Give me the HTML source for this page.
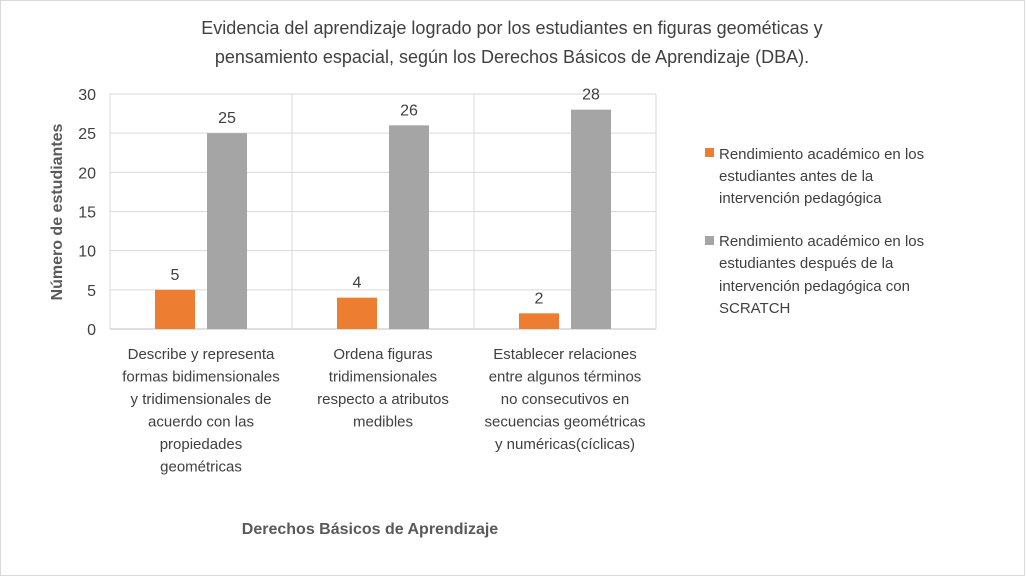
<!DOCTYPE html>
<html><head><meta charset="utf-8"><style>
body{margin:0;background:#fff;}
svg text{font-family:"Liberation Sans",sans-serif;}
</style></head><body>
<svg width="1026" height="577" xmlns="http://www.w3.org/2000/svg">
<rect x="0.5" y="0.5" width="1024" height="575" fill="#fff" stroke="#d9d9d9"/>
<text x="512" y="34" text-anchor="middle" font-size="18" fill="#404040">Evidencia del aprendizaje logrado por los estudiantes  en figuras geométicas y</text>
<text x="512" y="63" text-anchor="middle" font-size="18" fill="#404040">pensamiento espacial, según los Derechos Básicos de Aprendizaje (DBA).</text>
<g id="grid"></g>
<g id="bars"></g>
<g id="xlabels"></g>
<text transform="translate(62,212) rotate(-90)" text-anchor="middle" font-size="16" font-weight="bold" fill="#595959">Número de estudiantes</text>
<text x="370" y="534" text-anchor="middle" font-size="16" font-weight="bold" fill="#595959">Derechos Básicos de Aprendizaje</text>
<g>
<rect x="705" y="148" width="9" height="9" fill="#ed7d31"/>
<text font-size="15" fill="#404040"><tspan x="719" y="159">Rendimiento académico en los</tspan><tspan x="719" y="181">estudiantes  antes de la</tspan><tspan x="719" y="203">intervención pedagógica</tspan></text>
<rect x="705" y="236" width="9" height="9" fill="#a5a5a5"/>
<text font-size="15" fill="#404040"><tspan x="719" y="246">Rendimiento académico en los</tspan><tspan x="719" y="268">estudiantes  después de la</tspan><tspan x="719" y="291">intervención pedagógica con</tspan><tspan x="719" y="313">SCRATCH</tspan></text>
</g>
</svg>
<script>
const categories=[["Describe y representa","formas bidimensionales","y tridimensionales de","acuerdo con las","propiedades","geométricas"],["Ordena figuras","tridimensionales","respecto a atributos","medibles"],["Establecer relaciones","entre algunos términos","no consecutivos en","secuencias geométricas","y numéricas(cíclicas)"]];
const before=[5,4,2];
const after=[25,26,28];
const yTicks=[0,5,10,15,20,25,30];
const NS="http://www.w3.org/2000/svg";
const x0=110,catW=182,yBase=329,yTop=94,yMax=30;
const y=v=>yBase-(v/yMax)*(yBase-yTop);
const xc=i=>x0+i*catW;
function mk(tag,attrs,parent,txt){const e=document.createElementNS(NS,tag);for(const k in attrs)e.setAttribute(k,attrs[k]);if(txt!==undefined)e.textContent=txt;parent.appendChild(e);return e;}
const grid=document.getElementById('grid'),bars=document.getElementById('bars'),xl=document.getElementById('xlabels');
yTicks.forEach(t=>{
 const l=mk('line',{x1:x0,x2:x0+catW*categories.length,y1:y(t),y2:y(t),stroke:t===0?'#bfbfbf':'#d9d9d9'},grid);
 
 
 const tx=mk('text',{x:96,y:y(t)+6,'text-anchor':'end','font-size':16,fill:'#404040'},grid,t);
 
 
});
for(let i=0;i<=categories.length;i++){
 const l=mk('line',{x1:xc(i),x2:xc(i),y1:yTop,y2:yBase,stroke:'#d9d9d9'},grid);
 
 
}
categories.forEach((c,i)=>{
 const bx=xc(i)+45,gx=xc(i)+97;
 const b=mk('rect',{x:bx,y:y(before[i]),width:40,height:yBase-y(before[i]),fill:'#ed7d31'},bars);
 
 
 const g=mk('rect',{x:gx,y:y(after[i]),width:40,height:yBase-y(after[i]),fill:'#a5a5a5'},bars);
 
 
 const lb=mk('text',{x:bx+20,y:y(before[i])-10,'text-anchor':'middle','font-size':16,fill:'#404040'},bars,before[i]);
 
 
 const la=mk('text',{x:gx+20,y:y(after[i])-10,'text-anchor':'middle','font-size':16,fill:'#404040'},bars,after[i]);
 
 
 const t=mk('text',{'text-anchor':'middle','font-size':15,fill:'#404040'},xl);
 
 
 c.forEach((line,j)=>mk('tspan',{x:xc(i)+catW/2,y:359+j*22.5},t,line));
});
</script>
</body></html>
